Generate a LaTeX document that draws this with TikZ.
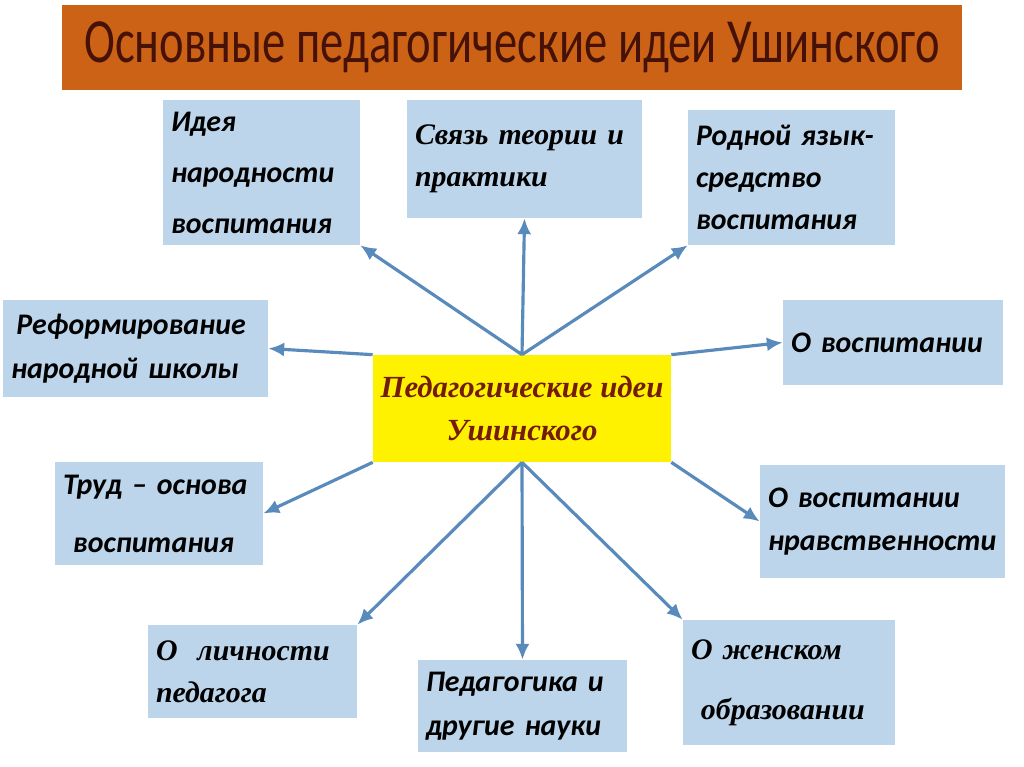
\documentclass[tikz,border=0pt]{standalone}
\usepackage{fontspec}
\setmainfont{Liberation Serif}
\newfontfamily\calib{Carlito}[Ligatures=TeX]
\newfontfamily\timesf{Liberation Serif}[Ligatures=TeX]
\usetikzlibrary{arrows.meta}

\definecolor{titleorange}{RGB}{204,98,22}
\definecolor{titletext}{RGB}{70,18,8}
\definecolor{ideablue}{RGB}{188,213,235}
\definecolor{centeryellow}{RGB}{255,242,0}
\definecolor{centertext}{RGB}{115,28,10}
\definecolor{arrowblue}{RGB}{88,138,188}

\newcommand{\sansbox}{\calib\bfseries\itshape\fontsize{17}{24}\selectfont}
\newcommand{\serifbox}{\timesf\bfseries\itshape\fontsize{17}{24}\selectfont}

\tikzset{
  idea/.style={fill=ideablue, inner xsep=0.16cm, inner ysep=0pt, align=left},
  conn/.style={line width=1.8pt, color=arrowblue, -{Latex[length=9pt,width=8pt]}},
}

\begin{document}
\begin{tikzpicture}[x=0.02cm,y=-0.02cm]

  \useasboundingbox[fill=white] (0,0) rectangle (1024,767);

  \node[fill=titleorange, minimum width=18cm, minimum height=1.7cm, text=titletext,
        font=\calib\fontsize{26.5}{30}\selectfont] (title) at (512,47.5)
        {\scalebox{1}[1.35]{Основные педагогические идеи Ушинского}};

  \node[fill=centeryellow, minimum width=5.96cm, minimum height=2.14cm, align=center,
        text=centertext, font=\timesf\bfseries\itshape\fontsize{17.5}{25}\selectfont] (c) at (522,408.5)
        {Педагогические идеи\\Ушинского};

 \node[idea, text width=3.62cm, minimum height=2.9cm, font={\sansbox\fontsize{17}{29}\selectfont}] (b1) at (261.5,172.5)
   {Идея\\народности\\воспитания};
 \node[idea, text width=4.38cm, minimum height=2.36cm, font=\serifbox] (b2) at (524.5,159)
   {Связь теории и\\практики\\[0.5cm]};
 \node[idea, text width=3.82cm, minimum height=2.7cm, font=\sansbox] (b3) at (791.5,177.5)
   {Родной язык-\\средство\\воспитания};
 \node[idea, text width=4.98cm, minimum height=1.94cm, font={\sansbox\fontsize{17}{25}\selectfont}] (b4) at (135.5,348.5)
   {\hspace{3pt}Реформирование\\народной школы};
 \node[idea, text width=4.08cm, minimum height=1.7cm, font=\sansbox] (b5) at (893,342.5)
   {О воспитании\\[0.35cm]};
 \node[idea, text width=3.84cm, minimum height=2.06cm, font={\sansbox\fontsize{17}{33}\selectfont}] (b6) at (159,513.5)
   {Труд – основа\\\ воспитания};
 \node[idea, text width=4.58cm, minimum height=2.26cm, font=\sansbox] (b7) at (882.5,521.5)
   {О воспитании\\нравственности};
 \node[idea, text width=3.86cm, minimum height=1.86cm, font=\serifbox] (b8) at (252.5,671.5)
   {О\ \ личности\\педагога};
 \node[idea, text width=3.86cm, minimum height=1.84cm, font={\sansbox\fontsize{17}{25}\selectfont}] (b9) at (522.5,706)
   {Педагогика и\\другие науки};
 \node[idea, text width=3.92cm, minimum height=2.5cm, font={\serifbox\fontsize{17}{34}\selectfont}] (b10) at (789,682.5)
   {О женском\\\ образовании};

 \draw[conn] (c.north) -- (b1.south east);
 \draw[conn] (c.north) -- (b2.south);
 \draw[conn] (c.north) -- (b3.south west);
 \draw[conn] (c.north west) -- (b4.east);
 \draw[conn] (c.north east) -- (b5.west);
 \draw[conn] (c.south west) -- (b6.east);
 \draw[conn] (c.south east) -- (b7.west);
 \draw[conn] (c.south) -- (b8.north east);
 \draw[conn] (c.south) -- (b9.north);
 \draw[conn] (c.south) -- (b10.north west);

\end{tikzpicture}
\end{document}
